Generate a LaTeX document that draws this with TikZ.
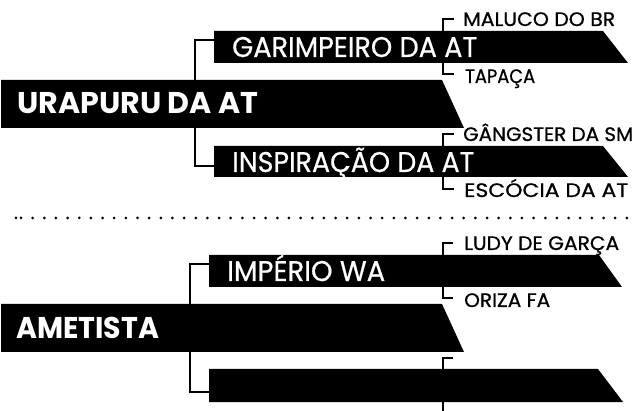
\documentclass[tikz,border=0pt]{standalone}
\usepackage{fontspec}
\setmainfont{Poppins}
\newfontfamily\subfont[FakeBold=0.6]{Poppins}
\newfontfamily\leaffont[FakeBold=0.8]{Poppins}
\newsavebox\fitbox
\newcommand\fitx[2]{\sbox\fitbox{#2}\pgfmathsetmacro\fitf{#1/\wd\fitbox}\scalebox{\fitf}[1]{\usebox\fitbox}}
\tikzset{
  bar/.style={fill=black},
  bracket/.style={draw=black, line width=2.3pt},
  maintext/.style={anchor=base west, inner sep=0pt, text=white, font=\fontsize{30}{31}\selectfont\bfseries},
  subtext/.style={anchor=base west, inner sep=0pt, text=white, font=\subfont\fontsize{28.5}{30}\selectfont},
  leaftext/.style={anchor=base west, inner sep=0pt, text=black, font=\leaffont\fontsize{19.5}{21}\selectfont},
  dotline/.style={draw=black, line width=3pt, line cap=round, dash pattern=on 0pt off 11.65pt}
}
\begin{document}
\begin{tikzpicture}[x=1pt,y=-1pt]
\useasboundingbox (0,0) rectangle (637,411);
% ---------- top group ----------
\fill[bar] (1,80) -- (442,80) -- (464,128) -- (1,128) -- cycle;
\fill[bar] (214,31) -- (603,31) -- (628,63) -- (214,63) -- cycle;
\fill[bar] (214,146) -- (603,146) -- (628,177) -- (214,177) -- cycle;
\coordinate (u-top) at (195,80);
\coordinate (u-bot) at (195,128);
\coordinate (g-in) at (214,40);
\coordinate (i-in) at (214,166);
\draw[bracket] (g-in) -| (u-top);
\draw[bracket] (u-bot) |- (i-in);
\coordinate (g-top) at (443,31);
\coordinate (g-bot) at (443,63);
\coordinate (ma-in) at (454,19);
\coordinate (ta-in) at (454,74);
\draw[bracket] (ma-in) -| (g-top);
\draw[bracket] (g-bot) |- (ta-in);
\coordinate (i-top) at (443,146);
\coordinate (i-bot) at (443,177);
\coordinate (ga-in) at (454,134);
\coordinate (es-in) at (454,189);
\draw[bracket] (ga-in) -| (i-top);
\draw[bracket] (i-bot) |- (es-in);
\node[maintext] (urapuru) at (17,114) {\fitx{241}{URAPURU DA AT}};
\node[subtext] (garimpeiro) at (232,57) {\fitx{245}{GARIMPEIRO DA AT}};
\node[subtext] (inspiracao) at (232,172) {\fitx{242}{INSPIRAÇÃO DA AT}};
\node[leaftext] (maluco) at (463,26) {\fitx{152}{MALUCO DO BR}};
\node[leaftext] (tapaca) at (465,83) {\fitx{70}{TAPAÇA}};
\node[leaftext] (gangster) at (463,141) {\fitx{170}{GÂNGSTER DA SM}};
\node[leaftext] (escocia) at (464,197) {\fitx{164}{ESCÓCIA DA AT}};
% ---------- separator ----------
\fill (16,218) circle (1.5);
\draw[dotline] (21,218) -- (637,218);
% ---------- bottom group ----------
\fill[bar] (1,304) -- (442,304) -- (464,352) -- (1,352) -- cycle;
\fill[bar] (209,255) -- (599,255) -- (622,287) -- (209,287) -- cycle;
\fill[bar] (209,369) -- (598,369) -- (623,402) -- (209,402) -- cycle;
\coordinate (a-top) at (190,304);
\coordinate (a-bot) at (190,352);
\coordinate (im-in) at (209,264);
\coordinate (e-in) at (209,392);
\draw[bracket] (im-in) -| (a-top);
\draw[bracket] (a-bot) |- (e-in);
\coordinate (im-top) at (443,255);
\coordinate (im-bot) at (443,287);
\coordinate (lu-in) at (453,243);
\coordinate (or-in) at (453,298);
\draw[bracket] (lu-in) -| (im-top);
\draw[bracket] (im-bot) |- (or-in);
\coordinate (e-top) at (443,369);
\coordinate (e-bot) at (443,402);
\coordinate (x-in) at (453,358);
\coordinate (x-end) at (443,412);
\draw[bracket] (x-in) -| (e-top);
\draw[bracket] (e-bot) -- (x-end);
\node[maintext] (ametista) at (16,339) {\fitx{143}{AMETISTA}};
\node[subtext] (imperio) at (227,281) {\fitx{158}{IMPÉRIO WA}};
\node[leaftext] (ludy) at (464,250) {\fitx{155}{LUDY DE GARÇA}};
\node[leaftext] (oriza) at (464,307) {\fitx{86}{ORIZA FA}};
\end{tikzpicture}
\end{document}
